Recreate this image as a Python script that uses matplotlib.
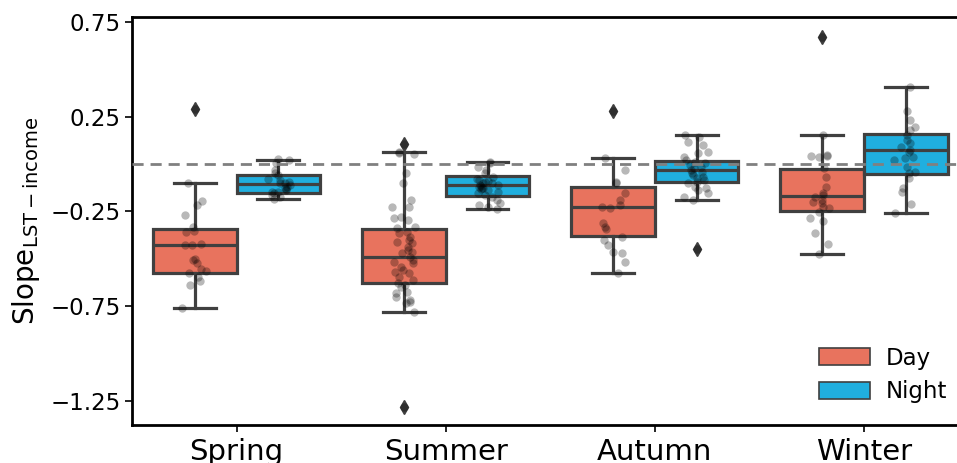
import numpy as np
import matplotlib
matplotlib.use("Agg")
import matplotlib.pyplot as plt
from matplotlib.patches import Patch

# ---------------- data ----------------
seasons = ["Spring", "Summer", "Autumn", "Winter"]
hues = ["Day", "Night"]

# box statistics
day_whishi = [-0.099, 0.063, 0.030, 0.151]
day_q3 = [-0.341, -0.343, -0.120, -0.028]
day_med = [-0.426, -0.492, -0.229, -0.167]
day_q1 = [-0.573, -0.626, -0.380, -0.248]
day_whislo = [-0.760, -0.781, -0.577, -0.477]
day_fliers = [[0.289], [0.106, -1.281], [0.278], [0.672]]

night_whishi = [0.021, 0.009, 0.155, 0.408]
night_q3 = [-0.056, -0.063, 0.016, 0.157]
night_med = [-0.106, -0.113, -0.033, 0.072]
night_q1 = [-0.151, -0.169, -0.095, -0.053]
night_whislo = [-0.186, -0.239, -0.190, -0.260]
night_fliers = [[], [], [-0.450], []]

# individual city slopes (strip points)
spring_day = [0.289, -0.099, -0.194, -0.216, -0.268, -0.331, -0.352, -0.357, -0.422,
              -0.426, -0.427, -0.501, -0.507, -0.521, -0.556, -0.563, -0.574, -0.595,
              -0.619, -0.638, -0.760]
spring_night = [0.028, 0.021, 0.004, -0.032, -0.049, -0.060, -0.081, -0.084, -0.093,
                -0.100, -0.102, -0.111, -0.120, -0.128, -0.130, -0.137, -0.146, -0.150,
                -0.155, -0.164, -0.172, -0.186]
summer_day = [0.106, 0.063, 0.058, 0.052, -0.049, -0.099, -0.190, -0.229, -0.225, -0.278,
              -0.287, -0.296, -0.331, -0.339, -0.357, -0.366, -0.384, -0.401, -0.410,
              -0.418, -0.436, -0.454, -0.463, -0.471, -0.489, -0.507, -0.516, -0.524,
              -0.542, -0.559, -0.568, -0.577, -0.595, -0.612, -0.630, -0.639, -0.647,
              -0.674, -0.683, -0.700, -0.718, -0.727, -0.735, -0.781, -1.281]
summer_night = [0.009, 0.004, -0.014, -0.032, -0.049, -0.067, -0.080, -0.084, -0.090,
                -0.093, -0.100, -0.102, -0.108, -0.111, -0.115, -0.120, -0.125, -0.128,
                -0.133, -0.137, -0.146, -0.155, -0.164, -0.172, -0.190, -0.207, -0.216,
                -0.225, -0.239]
autumn_day = [0.278, 0.030, -0.032, -0.093, -0.102, -0.155, -0.190, -0.216, -0.225,
              -0.234, -0.313, -0.331, -0.345, -0.384, -0.401, -0.427, -0.463, -0.471,
              -0.516, -0.577]
autumn_night = [0.155, 0.144, 0.118, 0.100, 0.065, 0.056, 0.039, 0.021, 0.012, 0.004,
                -0.005, -0.014, -0.023, -0.032, -0.041, -0.049, -0.058, -0.067, -0.075,
                -0.084, -0.093, -0.102, -0.120, -0.128, -0.137, -0.155, -0.172, -0.190,
                -0.450]
winter_day = [0.672, 0.151, 0.047, 0.040, 0.045, 0.035, -0.023, -0.067, -0.120, -0.155,
              -0.164, -0.172, -0.190, -0.199, -0.207, -0.225, -0.234, -0.252, -0.287,
              -0.301, -0.366, -0.422, -0.477]
winter_night = [0.408, 0.281, 0.232, 0.197, 0.179, 0.153, 0.127, 0.109, 0.091, 0.074,
                0.065, 0.039, 0.030, 0.021, -0.014, -0.041, -0.049, -0.075, -0.128,
                -0.146, -0.212, -0.260]

day_points = [spring_day, summer_day, autumn_day, winter_day]
night_points = [spring_night, summer_night, autumn_night, winter_night]

yticks = [0.75, 0.25, -0.25, -0.75, -1.25]

# ---------------- style ----------------
day_color = "#E8735E"
night_color = "#20AFDF"
edge = "#404040"
box_w = 0.4

fig = plt.figure(figsize=(9.57, 4.63), dpi=100)
ax = fig.add_axes([132 / 957, 1 - 425 / 463, (968.5 - 132) / 957, (425 - 17) / 463])

def make_stats(q1, med, q3, lo, hi, fl):
    return [dict(q1=a, med=b, q3=c, whislo=d, whishi=e, fliers=f)
            for a, b, c, d, e, f in zip(q1, med, q3, lo, hi, fl)]

x = np.arange(len(seasons))
offsets = [-0.2, 0.2]
groups = [
    (make_stats(day_q1, day_med, day_q3, day_whislo, day_whishi, day_fliers), day_color, day_points),
    (make_stats(night_q1, night_med, night_q3, night_whislo, night_whishi, night_fliers), night_color, night_points),
]

rng = np.random.default_rng(3)
for (stats, col, pts), off in zip(groups, offsets):
    ax.bxp(stats, positions=x + off, widths=box_w, patch_artist=True,
           boxprops=dict(facecolor=col, edgecolor=edge, linewidth=2.3),
           medianprops=dict(color=edge, linewidth=2.3),
           whiskerprops=dict(color=edge, linewidth=2.3),
           capprops=dict(color=edge, linewidth=2.3),
           capwidths=box_w / 2,
           flierprops=dict(marker="d", markerfacecolor=edge, markeredgecolor=edge,
                           markersize=7),
           manage_ticks=False, zorder=2)
    for i, vals in enumerate(pts):
        vals = np.asarray(vals)
        st = stats[i]
        jit = rng.uniform(-0.06, 0.06, len(vals))
        # points that coincide with flier diamonds sit under them
        outside = (vals > st["whishi"] + 1e-9) | (vals < st["whislo"] - 1e-9)
        jit[outside] = 0.0
        ax.scatter(x[i] + off + jit, vals, s=36, color="black", alpha=0.28,
                   linewidths=0, zorder=3)

ax.axhline(0, color="gray", linestyle="--", linewidth=2, dashes=(4, 2.5), zorder=4)

ax.set_xlim(-0.5, 3.5)
ax.set_ylim(-1.377, 0.776)
ax.set_xticks(x)
ax.set_xticklabels(seasons, fontsize=21)
ax.set_yticks(yticks)
ax.set_yticklabels([f"{t:.2f}".replace("-", "\u2212") for t in yticks], fontsize=16.5)
ax.tick_params(axis="both", direction="out", length=5, width=1.2, pad=3)
ax.tick_params(axis="x", pad=4)
for s in ax.spines.values():
    s.set_linewidth(2)
    s.set_color("black")

ax.set_ylabel(r"Slope$_{\mathrm{LST-income}}$", fontsize=20, labelpad=6)

handles = [Patch(facecolor=day_color, edgecolor=edge, linewidth=1.2, label="Day"),
           Patch(facecolor=night_color, edgecolor=edge, linewidth=1.2, label="Night")]
ax.legend(handles=handles, loc="lower right", frameon=False, fontsize=16.5,
          handlelength=2.2, handleheight=0.75, handletextpad=0.7, labelspacing=0.45,
          bbox_to_anchor=(0.999, 0.003))

fig.savefig("out.png", dpi=100)
